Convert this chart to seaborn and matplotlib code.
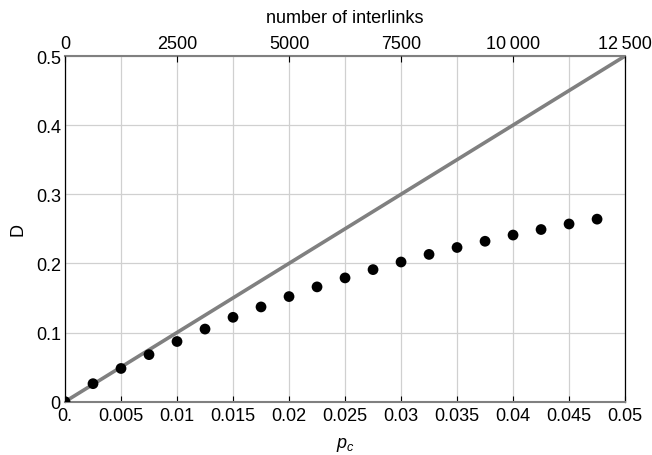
import matplotlib
matplotlib.use("Agg")
import matplotlib.pyplot as plt
import seaborn as sns
import pandas as pd

# data
p_c = [0.0, 0.0025, 0.005, 0.0075, 0.01, 0.0125, 0.015, 0.0175, 0.02, 0.0225,
       0.025, 0.0275, 0.03, 0.0325, 0.035, 0.0375, 0.04, 0.0425, 0.045, 0.0475]
D = [0.0, 0.026, 0.048, 0.068, 0.087, 0.105, 0.122, 0.137, 0.152, 0.166,
     0.179, 0.191, 0.202, 0.213, 0.223, 0.232, 0.241, 0.249, 0.257, 0.264]
line_x = [0.0, 0.05]
line_y = [0.0, 0.5]

x_ticks = [0, 0.005, 0.01, 0.015, 0.02, 0.025, 0.03, 0.035, 0.04, 0.045, 0.05]
x_labels = ["0.", "0.005", "0.01", "0.015", "0.02", "0.025", "0.03", "0.035", "0.04", "0.045", "0.05"]
y_ticks = [0, 0.1, 0.2, 0.3, 0.4, 0.5]
y_labels = ["0", "0.1", "0.2", "0.3", "0.4", "0.5"]
top_ticks = [0, 2500, 5000, 7500, 10000, 12500]
top_labels = ["0", "2500", "5000", "7500", "10\u2009000", "12\u2009500"]

df = pd.DataFrame({"p_c": p_c, "D": D})
ref = pd.DataFrame({"x": line_x, "y": line_y})

sns.set_style("white")
plt.rcParams['font.family'] = ['Liberation Sans', 'DejaVu Sans']
plt.rcParams['mathtext.fontset'] = 'custom'
plt.rcParams['mathtext.it'] = 'Liberation Sans:italic'
plt.rcParams['mathtext.rm'] = 'Liberation Sans'
plt.rcParams['text.color'] = 'black'
plt.rcParams['axes.labelcolor'] = 'black'
plt.rcParams['xtick.color'] = 'black'
plt.rcParams['ytick.color'] = 'black'
fs = 13

fig = plt.figure(figsize=(6.52, 4.56), dpi=100)
ax = fig.add_axes([0.0997, 0.117, 0.859, 0.758])

sns.lineplot(data=ref, x="x", y="y", ax=ax, color="#808080", linewidth=2.6, zorder=2)
sns.scatterplot(data=df, x="p_c", y="D", ax=ax, color="black", s=60, edgecolor="none", zorder=3)

ax.set_xlim(0, 0.05)
ax.set_ylim(0, 0.5)
ax.set_xticks(x_ticks)
ax.set_xticklabels(x_labels)
ax.set_yticks(y_ticks)
ax.set_yticklabels(y_labels)
ax.grid(True, color="#d0d0d0", linewidth=0.9)
ax.set_axisbelow(True)
ax.tick_params(axis="x", direction="in", length=4, width=0.8, labelsize=fs, pad=4)
ax.tick_params(axis="y", direction="in", length=4, width=0.8, labelsize=fs, pad=3)
ax.set_xlabel("$p_c$", fontsize=fs, labelpad=8)
ax.set_ylabel("D", fontsize=fs, labelpad=7)

for side in ["left", "right"]:
    ax.spines[side].set_color("black")
    ax.spines[side].set_linewidth(0.9)
for side in ["top", "bottom"]:
    ax.spines[side].set_color("#808080")
    ax.spines[side].set_linewidth(1.5)

top = ax.twiny()
top.set_xlim(0, 12500)
top.set_xticks(top_ticks)
top.set_xticklabels(top_labels)
top.tick_params(direction="in", length=4, width=0.8, labelsize=fs, pad=3, colors="black")
top.set_xlabel("number of interlinks", fontsize=fs, labelpad=9)
for s in top.spines.values():
    s.set_visible(False)

fig.savefig("out.png", dpi=100)
